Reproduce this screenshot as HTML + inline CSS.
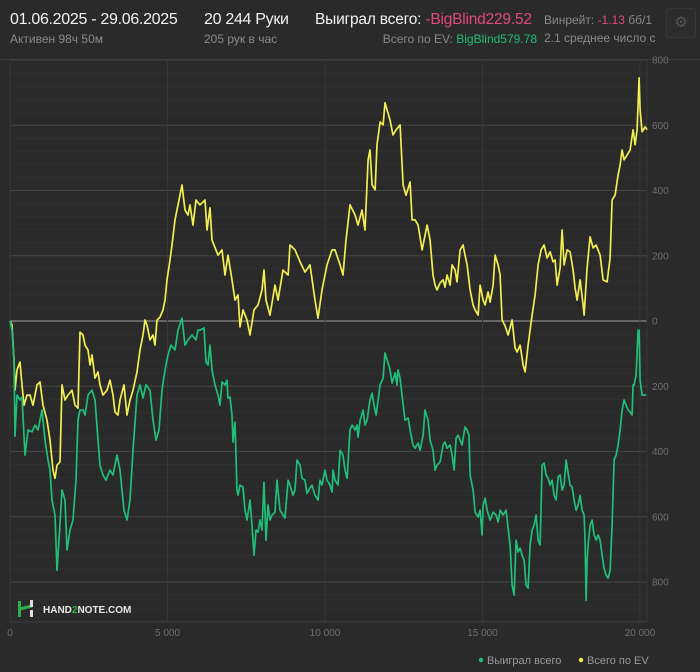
<!DOCTYPE html>
<html><head><meta charset="utf-8">
<style>
html,body{margin:0;padding:0;background:#2a2a2a;}
body{width:700px;height:672px;overflow:hidden;position:relative;font-family:"Liberation Sans","DejaVu Sans",sans-serif;}
.t{position:absolute;white-space:nowrap;}
</style></head>
<body>
<div class="t" style="left:10px;top:11px;font-size:16px;color:#f2f2f2;letter-spacing:-0.3px;">01.06.2025 - 29.06.2025</div>
<div class="t" style="left:10px;top:32px;font-size:12px;color:#8a8a8a;">Активен 98ч 50м</div>
<div class="t" style="left:204px;top:11px;font-size:16px;color:#f2f2f2;letter-spacing:-0.3px;">20 244 Руки</div>
<div class="t" style="left:204px;top:32px;font-size:12px;color:#8a8a8a;">205 рук в час</div>
<div class="t" style="left:315px;top:11px;font-size:15.5px;color:#f2f2f2;letter-spacing:-0.2px;">Выиграл всего: <span style="color:#e2497d">-BigBlind229.52</span></div>
<div class="t" style="right:163px;top:32px;font-size:12px;color:#8a8a8a;">Всего по EV: <span style="color:#1fbf7a">BigBlind579.78</span></div>
<div class="t" style="left:544px;top:13px;font-size:12px;color:#8a8a8a;">Винрейт: <span style="color:#e2497d">-1.13</span> бб/1</div>
<div class="t" style="left:544px;top:31px;font-size:12px;color:#8a8a8a;">2.1 среднее число с</div>
<div class="t" style="left:666px;top:8px;width:28px;height:28px;border:1px solid #363636;border-radius:3px;background:#2c2c2c;color:#555;font-size:15px;text-align:center;line-height:28px;">⚙</div>

<svg id="chart" width="700" height="672" style="position:absolute;left:0;top:0;" xmlns="http://www.w3.org/2000/svg">
<line x1="0" y1="59.5" x2="700" y2="59.5" stroke="#3a3a3a"/>
<g id="grid"></g>
<g id="series"></g>
<g id="labels" font-family="Liberation Sans, sans-serif" font-size="10" fill="#6e6e6e"></g>
<g>
<rect x="18" y="601" width="3" height="8" fill="#2fae4a"/>
<rect x="18" y="609" width="3" height="8" fill="#2fae4a"/>
<path d="M19.5 609 L32 606" stroke="#2fae4a" stroke-width="3"/>
<rect x="30" y="600" width="3" height="7" fill="#dddddd"/>
<rect x="30" y="610" width="3" height="7" fill="#dddddd"/>
<text x="43" y="613" font-family="Liberation Sans, sans-serif" font-size="10" font-weight="bold" fill="#e6e6e6">HAND<tspan fill="#2fae4a">2</tspan>NOTE.COM</text>
</g>
<g font-family="Liberation Sans, sans-serif" font-size="11" fill="#9a9a9a">
<circle cx="481" cy="660" r="2.2" fill="#1fbf7a"/>
<text x="487" y="664">Выиграл всего</text>
<circle cx="581" cy="660" r="2.2" fill="#f2ee50"/>
<text x="587" y="664">Всего по EV</text>
</g>
</svg>
<script>
const xTicks=[0,5000,10000,15000,20000];
const xTickLabels=["0","5 000","10 000","15 000","20 000"];
const yTicks=[800,600,400,200,0,-200,-400,-600,-800];
const yTickLabels=["800","600","400","200","0","200","400","600","800"];
const evHands=[0,64,127,159,222,318,381,445,540,635,730,857,953,1048,1175,1270,1365,1429,1492,1588,1651,1746,1842,1969,2064,2159,2223,2318,2381,2477,2540,2604,2699,2794,2858,2953,3080,3175,3270,3334,3429,3493,3620,3715,3810,3905,4032,4128,4223,4286,4350,4445,4540,4604,4667,4763,4858,4921,4985,5080,5144,5239,5334,5398,5461,5556,5652,5715,5810,5906,6033,6191,6255,6350,6414,6604,6731,6826,6922,7049,7144,7239,7303,7398,7525,7620,7747,7874,8001,8065,8128,8255,8414,8509,8668,8827,8890,9049,9208,9366,9525,9684,9779,9906,10065,10224,10319,10478,10573,10668,10795,10954,11049,11176,11271,11367,11430,11494,11589,11652,11748,11843,11906,12065,12160,12256,12383,12478,12573,12700,12764,12859,12954,13081,13240,13335,13430,13494,13557,13653,13748,13811,13875,13970,14034,14129,14192,14288,14383,14446,14510,14605,14700,14764,14859,14923,15018,15081,15177,15240,15335,15399,15494,15558,15621,15716,15812,15939,16034,16097,16193,16288,16351,16447,16574,16669,16764,16859,16955,17050,17145,17240,17304,17367,17463,17526,17590,17685,17780,17875,17939,18002,18098,18193,18225,18320,18415,18510,18606,18733,18828,18955,19050,19114,19209,19304,19368,19431,19495,19590,19685,19780,19844,19907,19971,20003,20066,20161,20224];
const evValues=[0,-12,-120,-212,-150,-126,-196,-258,-227,-227,-258,-196,-187,-258,-304,-365,-457,-482,-442,-432,-196,-242,-227,-212,-258,-267,-34,-43,-74,-89,-135,-104,-175,-156,-196,-227,-212,-181,-227,-279,-288,-242,-196,-288,-242,-212,-156,-89,-43,3,-12,-58,-43,-74,3,12,34,64,126,187,233,310,356,386,417,340,325,356,294,371,356,371,279,347,248,202,218,141,202,126,64,80,-18,34,3,-43,34,49,95,156,64,18,110,64,156,141,233,218,181,150,172,64,9,95,172,218,218,172,141,248,356,325,294,340,279,494,524,417,402,540,610,601,669,616,570,586,601,417,386,426,310,310,294,218,294,248,141,110,95,117,126,104,141,110,172,156,120,218,233,202,172,95,49,34,18,110,64,49,89,58,110,202,172,141,3,-15,-43,3,-83,-95,-74,-135,-156,-74,18,80,172,218,233,193,212,181,187,110,163,279,172,218,212,156,101,64,126,49,18,163,258,224,233,202,126,120,193,371,386,448,478,524,494,509,524,586,540,586,745,647,580,595,586];
const wonHands=[0,64,127,159,222,318,381,476,572,699,794,889,1016,1111,1207,1270,1334,1429,1492,1556,1651,1746,1810,1905,2000,2096,2159,2223,2318,2381,2477,2604,2699,2794,2858,2953,3048,3175,3270,3397,3493,3620,3715,3810,3905,4032,4128,4223,4318,4445,4540,4636,4731,4826,4921,5017,5112,5239,5334,5461,5556,5652,5779,5906,5969,6033,6160,6223,6287,6350,6414,6509,6604,6668,6731,6826,6890,6922,6985,7049,7080,7144,7207,7239,7303,7398,7461,7525,7620,7684,7747,7811,7874,7938,8001,8065,8128,8192,8255,8319,8414,8477,8573,8668,8731,8827,8890,8985,9049,9112,9208,9271,9366,9430,9525,9588,9684,9779,9842,9906,10001,10065,10160,10224,10255,10319,10414,10478,10573,10636,10700,10795,10859,10954,11017,11049,11113,11208,11271,11335,11430,11494,11557,11621,11748,11843,11906,12002,12065,12129,12224,12287,12319,12383,12446,12541,12637,12700,12795,12859,12954,13018,13113,13176,13272,13335,13430,13494,13557,13653,13748,13811,13875,13970,14034,14097,14161,14224,14288,14351,14446,14510,14573,14605,14700,14764,14859,14923,14986,15018,15081,15145,15240,15335,15431,15494,15558,15653,15748,15812,15875,15939,16002,16066,16129,16193,16256,16320,16383,16447,16510,16574,16637,16701,16764,16828,16891,16955,17018,17082,17145,17209,17272,17336,17399,17463,17526,17590,17653,17717,17780,17844,17907,17971,18034,18098,18161,18225,18256,18288,18320,18352,18415,18479,18542,18606,18669,18733,18796,18860,18923,18987,19050,19114,19177,19241,19304,19368,19431,19495,19558,19622,19685,19749,19780,19812,19876,19939,19971,20003,20066,20129,20193];
const wonValues=[0,-28,-120,-353,-227,-242,-233,-411,-334,-340,-319,-334,-273,-365,-426,-457,-549,-595,-764,-672,-518,-549,-702,-641,-610,-488,-304,-273,-273,-288,-227,-212,-242,-365,-442,-472,-488,-457,-472,-411,-457,-580,-610,-549,-396,-227,-196,-236,-196,-212,-304,-365,-334,-212,-150,-104,-74,-89,-28,9,-74,-58,-43,-58,-28,-28,-21,-126,-135,-74,-150,-196,-227,-258,-187,-196,-181,-236,-233,-288,-371,-310,-518,-534,-503,-509,-580,-610,-549,-626,-718,-641,-647,-610,-641,-494,-672,-564,-610,-595,-586,-488,-580,-595,-604,-488,-503,-534,-518,-426,-442,-482,-488,-528,-512,-503,-534,-549,-488,-503,-457,-488,-503,-524,-457,-488,-503,-396,-411,-457,-482,-334,-319,-334,-319,-356,-304,-273,-319,-304,-242,-221,-258,-288,-196,-175,-98,-129,-150,-190,-159,-196,-150,-175,-227,-304,-297,-334,-380,-390,-374,-396,-350,-273,-304,-365,-396,-457,-442,-432,-380,-371,-390,-380,-411,-457,-359,-350,-365,-380,-325,-334,-350,-472,-518,-586,-601,-580,-656,-564,-543,-580,-610,-586,-595,-616,-580,-595,-580,-635,-687,-810,-840,-672,-708,-696,-718,-733,-810,-819,-687,-641,-626,-595,-672,-687,-442,-436,-472,-482,-503,-488,-534,-549,-478,-472,-518,-503,-426,-466,-503,-509,-549,-580,-564,-534,-580,-595,-672,-856,-733,-687,-626,-610,-656,-672,-656,-672,-718,-758,-779,-788,-764,-626,-426,-411,-380,-334,-273,-242,-258,-273,-279,-288,-196,-196,-166,-28,-28,-181,-227,-227,-227];

const NS="http://www.w3.org/2000/svg";
const PL=10,PR=640,PT=60,PB=582,PBOT=622,PEDGE=647;
function xScale(h){return PL+(h/20000)*(PR-PL);}
function yScale(v){return PT+(800-v)/1600*(PB-PT);}
function mk(tag,attrs,parent){const e=document.createElementNS(NS,tag);for(const k in attrs)e.setAttribute(k,attrs[k]);parent.appendChild(e);return e;}
const grid=document.getElementById('grid');
const labels=document.getElementById('labels');
const series=document.getElementById('series');
for(let v=800;v>=-980;v-=40){
  const y=yScale(v); if(y>PBOT) break;
  const ln=mk('line',{x1:PL,x2:PEDGE,y1:y,y2:y,stroke:'#303030','stroke-width':1},grid);
  
  
}
yTicks.forEach((v,i)=>{
  const y=yScale(v);
  const ln=mk('line',{x1:PL,x2:PEDGE,y1:y,y2:y,stroke:v===0?'#8a8a8a':'#454545','stroke-width':v===0?1.3:1},grid);
  
  
  const t=mk('text',{x:652,y:y+3.5},labels);
  t.textContent=yTickLabels[i];
  
  
});
xTicks.forEach((h,i)=>{
  const x=xScale(h);
  const ln=mk('line',{x1:x,x2:x,y1:PT,y2:PBOT,stroke:'#363636','stroke-width':1},grid);
  
  
  const t=mk('text',{x:x,y:636,'text-anchor':'middle'},labels);
  t.textContent=xTickLabels[i];
  
  
});
const edge=mk('line',{x1:PEDGE,x2:PEDGE,y1:PT,y2:PBOT,stroke:'#363636'},grid);


const bot=mk('line',{x1:PL,x2:PEDGE,y1:PBOT,y2:PBOT,stroke:'#3c3c3c'},grid);


function path(hs,vs){return hs.map((h,i)=>(i?'L':'M')+xScale(h).toFixed(1)+' '+yScale(vs[i]).toFixed(1)).join(' ');}
const ev=mk('path',{d:path(evHands,evValues),fill:'none',stroke:'#f2ee50','stroke-width':1.7,'stroke-linejoin':'round'},series);


const won=mk('path',{d:path(wonHands,wonValues),fill:'none',stroke:'#1fbf7a','stroke-width':1.7,'stroke-linejoin':'round'},series);


</script>
</body></html>
